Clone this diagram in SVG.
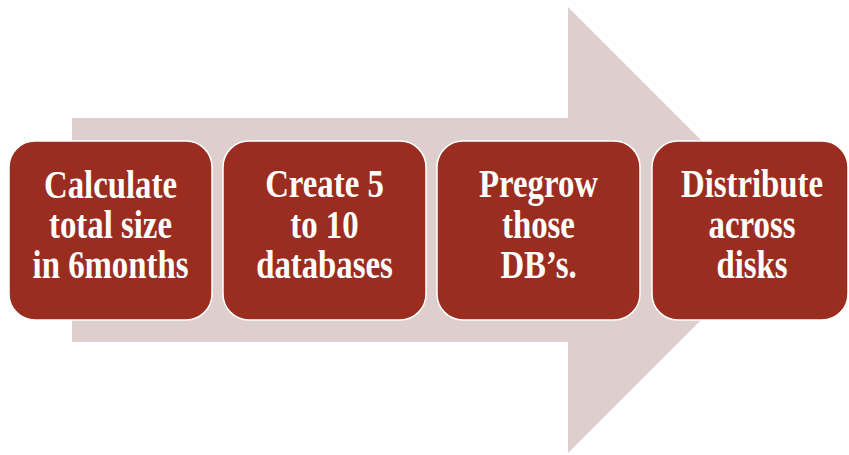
<svg xmlns="http://www.w3.org/2000/svg" width="849" height="455" viewBox="0 0 849 455">
<style>
.box{fill:#9B2D20;stroke:#FFFFFF;stroke-width:1.5}
.t{font-family:"Liberation Serif","DejaVu Serif",serif;font-weight:bold;font-size:41px;fill:#FFFFFF;text-anchor:middle}
</style>
<rect width="849" height="455" fill="#FFFFFF"/>
<g id="connectors">
<polygon points="72,118 568,118 568,7 791,230 568,453 568,342 72,342" fill="#DFCECE"/>
</g>
<g id="node1">
<rect class="box" x="9" y="141" width="203" height="179" rx="26"/>
<g transform="translate(110.5,0) scale(0.8,1)">
<text class="t" x="0" y="198">Calculate</text>
<text class="t" x="0" y="238">total size</text>
<text class="t" x="0" y="278">in 6months</text>
</g>
</g>
<g id="node2">
<rect class="box" x="223" y="141" width="203" height="179" rx="26"/>
<g transform="translate(324.5,0) scale(0.8,1)">
<text class="t" x="0" y="197">Create 5</text>
<text class="t" x="0" y="238">to 10</text>
<text class="t" x="0" y="278">databases</text>
</g>
</g>
<g id="node3">
<rect class="box" x="437" y="141" width="203" height="179" rx="26"/>
<g transform="translate(538.5,0) scale(0.8,1)">
<text class="t" x="0" y="197">Pregrow</text>
<text class="t" x="0" y="238">those</text>
<text class="t" x="0" y="278">DB’s.</text>
</g>
</g>
<g id="node4">
<rect class="box" x="652" y="141" width="196" height="179" rx="26"/>
<g transform="translate(752,0) scale(0.8,1)">
<text class="t" x="0" y="197">Distribute</text>
<text class="t" x="0" y="238">across</text>
<text class="t" x="0" y="278">disks</text>
</g>
</g>
</svg>
